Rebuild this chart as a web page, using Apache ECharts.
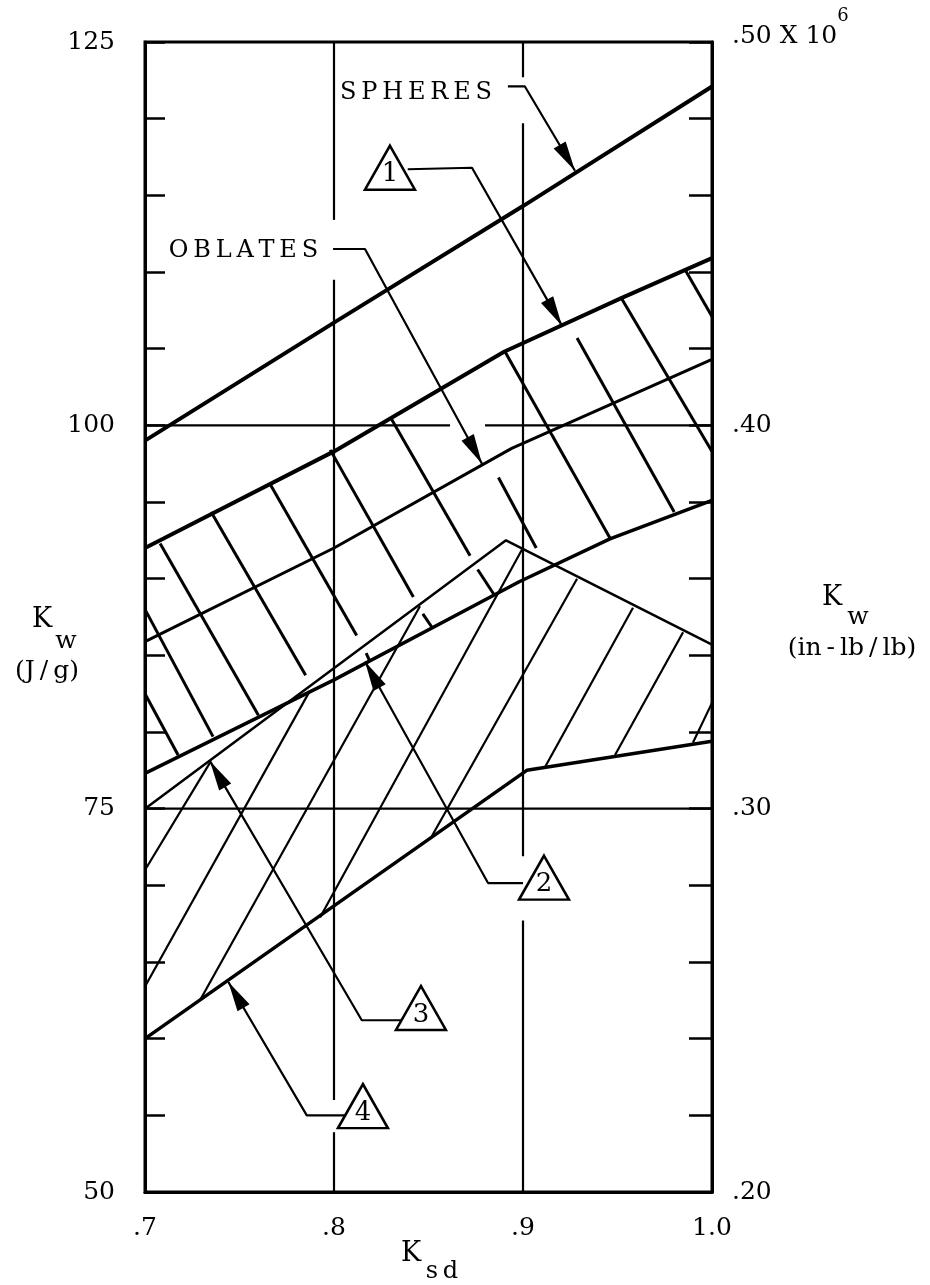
<!DOCTYPE html>
<html><head><meta charset="utf-8">
<script src="https://cdn.jsdelivr.net/npm/echarts@6/dist/echarts.min.js"></script>
<style>html,body{margin:0;padding:0;background:#fff}#c{width:930px;height:1285px}</style>
</head><body><div id="c"></div>
<script>
// ---------- data ----------
const xTickLabels = ['.7', '.8', '.9', '1.0'];
const leftTickLabels = ['50', '75', '100', '125'];
const rightTickLabels = ['.20', '.30', '.40', '{t|.50 X 10}{sup|6}'];

const spheres = [[0.7, 99.0], [0.8, 106.7], [0.9, 114.3], [1.0, 122.1]];
const curve1  = [[0.7, 92.0], [0.8, 98.3], [0.89, 104.8], [0.952, 108.3], [1.0, 110.9]];
const oblates = [[0.7, 85.9], [0.8, 92.0], [0.894, 98.5], [1.0, 104.3]];
const curve2  = [[0.7, 77.3], [0.8, 83.4], [0.898, 89.8], [0.946, 92.6], [1.0, 95.1]];
const curve3  = [[0.7, 75.0], [0.891, 92.5], [1.0, 85.7]];
const curve4  = [[0.7, 60.0], [0.902, 77.5], [1.0, 79.4]];

// grid line pieces (the drawing breaks them where leaders cross) [x1, y1, x2, y2]
const gridPieces = [
  [0.8, 125, 0.8, 113.4], [0.8, 109.5, 0.8, 56.0], [0.8, 53.9, 0.8, 50],
  [0.9, 125, 0.9, 122.7], [0.9, 119.7, 0.9, 71.9], [0.9, 67.7, 0.9, 50],
  [0.7, 100, 0.8614, 100], [0.8799, 100, 1.0, 100],
  [0.7, 75, 1.0, 75]
];

// hatch segments [x1, y1, x2, y2]
const hatchUpper = [
  [0.700, 82.5, 0.7175, 78.5],
  [0.700, 88.0, 0.736, 79.7],
  [0.708, 92.3, 0.760, 81.1],
  [0.735, 94.35, 0.785, 83.7],
  [0.766, 96.2, 0.812, 86.3],
  [0.817, 85.15, 0.819, 84.6],
  [0.798, 98.4, 0.842, 88.8],
  [0.847, 87.7, 0.852, 86.8],
  [0.830, 100.5, 0.872, 91.5],
  [0.876, 90.6, 0.885, 88.9],
  [0.887, 96.6, 0.907, 92.0],
  [0.8905, 104.8, 0.946, 92.65],
  [0.9286, 105.7, 0.980, 94.35],
  [0.952, 108.3, 1.0, 98.3],
  [0.986, 110.1, 1.0, 107.1]
];
const hatchLower = [
  [0.700, 71.0, 0.7344, 78.0],
  [0.700, 63.4, 0.7873, 82.7],
  [0.7291, 62.5, 0.8455, 88.2],
  [0.7926, 67.9, 0.8995, 91.9],
  [0.8513, 73.1, 0.9286, 90.0],
  [0.9116, 77.7, 0.9582, 88.1],
  [0.9487, 78.5, 0.9847, 86.5],
  [0.9899, 79.3, 1.0, 81.9]
];

// leader paths (last point = arrow tip)
const leaderSpheres = [[0.892, 122.1], [0.901, 122.1], [0.9275, 116.6]];
const leader1       = [[0.839, 116.7], [0.873, 116.8], [0.9206, 106.5]];
const leaderOblates = [[0.7995, 111.5], [0.8164, 111.5], [0.8783, 97.5]];
const leader2       = [[0.900, 70.15], [0.8815, 70.15], [0.8164, 84.6]];
const leader3       = [[0.8358, 61.2], [0.8147, 61.2], [0.7344, 78.1]];
const leader4       = [[0.8067, 55.0], [0.7856, 55.0], [0.7441, 63.7]];

const markerLabels = ['1', '2', '3', '4'];
const markerPos = [[0.8296, 116.8], [0.9111, 70.5], [0.846, 62.0], [0.8153, 55.6]];

const notes = ['SPHERES', 'OBLATES'];
const notePos = [[0.8434, 121.7], [0.7521, 111.4]];

// ---------- chart ----------
const FONT = '"DejaVu Serif", "Liberation Serif", serif';
const BLACK = '#000';
const spaced = s => s.split('').join('\u2009');

function lineSeries(data, width) {
  return {
    type: 'line', data: data, showSymbol: false, symbol: 'none', silent: true,
    lineStyle: { color: BLACK, width: width }, z: 3, clip: false
  };
}
function segSeries(data, width, z) {
  return {
    type: 'custom', data: data, silent: true, clip: false, z: z || 2,
    encode: { x: [0, 2], y: [1, 3] },
    renderItem: function (params, api) {
      const a = api.coord([api.value(0), api.value(1)]);
      const b = api.coord([api.value(2), api.value(3)]);
      return { type: 'line', shape: { x1: a[0], y1: a[1], x2: b[0], y2: b[1] },
               style: { stroke: BLACK, lineWidth: width, lineCap: 'butt' } };
    }
  };
}
const leaders = [leaderSpheres, leader1, leaderOblates, leader2, leader3, leader4];
const arrowData = leaders.map(p => {
  const a = p[p.length - 2], b = p[p.length - 1];
  return [a[0], a[1], b[0], b[1]];
});

const series = [
  segSeries(gridPieces, 2.2, 1),
  lineSeries(spheres, 4),
  lineSeries(curve1, 4),
  lineSeries(oblates, 3),
  lineSeries(curve2, 3.5),
  lineSeries(curve3, 2.5),
  lineSeries(curve4, 3.5),
  segSeries(hatchUpper, 3),
  segSeries(hatchLower, 2.2)
];
leaders.forEach(p => series.push(lineSeries(p, 2.2)));
series.push({
  type: 'custom', data: arrowData, silent: true, clip: false, z: 4,
  encode: { x: [0, 2], y: [1, 3] },
  renderItem: function (params, api) {
    const a = api.coord([api.value(0), api.value(1)]);
    const b = api.coord([api.value(2), api.value(3)]);
    const dx = b[0] - a[0], dy = b[1] - a[1], L = Math.hypot(dx, dy);
    const ux = dx / L, uy = dy / L, len = 30, hw = 7;
    const bx = b[0] - ux * len, by = b[1] - uy * len;
    return { type: 'polygon',
             shape: { points: [[b[0], b[1]], [bx - uy * hw, by + ux * hw], [bx + uy * hw, by - ux * hw]] },
             style: { fill: BLACK } };
  }
});
series.push({
  type: 'scatter', data: markerPos, symbol: 'triangle', symbolSize: [50, 44], silent: true, z: 5,
  itemStyle: { color: '#fff', borderColor: BLACK, borderWidth: 2.5, opacity: 1 },
  label: { show: true, position: 'inside', offset: [0, 7], formatter: p => markerLabels[p.dataIndex],
           fontFamily: FONT, fontSize: 26, color: BLACK, textBorderWidth: 0 }
});
series.push({
  type: 'scatter', data: notePos, symbolSize: 1, silent: true, z: 5,
  itemStyle: { color: '#fff' },
  label: { show: true, position: 'inside', formatter: p => spaced(notes[p.dataIndex]),
           fontFamily: FONT, fontSize: 24, color: BLACK, textBorderWidth: 0, opacity: 1 }
});

const labelStyle = { fontFamily: FONT, fontSize: 25, color: BLACK };

const option = {
  animation: false,
  backgroundColor: '#fff',
  grid: { left: 145, right: 218, top: 42, bottom: 93, show: true, borderColor: BLACK, borderWidth: 3,
          backgroundColor: 'transparent', containLabel: false, outerBoundsMode: 'none' },
  xAxis: {
    type: 'value', min: 0.7, max: 1.0, interval: 0.1,
    axisLine: { show: true, lineStyle: { color: BLACK, width: 3 } },
    axisTick: { show: false },
    splitLine: { show: false },
    axisLabel: Object.assign({ margin: 24, formatter: v => xTickLabels[Math.round((v - 0.7) / 0.1)] }, labelStyle)
  },
  yAxis: [{
    type: 'value', min: 50, max: 125, interval: 25, position: 'left',
    axisLine: { show: true, lineStyle: { color: BLACK, width: 3 } },
    axisTick: { show: true, inside: true, length: 20, lineStyle: { color: BLACK, width: 2.5 } },
    minorTick: { show: true, splitNumber: 5, length: 20, lineStyle: { color: BLACK, width: 2.5 } },
    splitLine: { show: false },
    axisLabel: Object.assign({ margin: 30, formatter: v => leftTickLabels[Math.round((v - 50) / 25)] }, labelStyle)
  }, {
    type: 'value', min: 0.2, max: 0.5, interval: 0.1, position: 'right',
    axisLine: { show: true, lineStyle: { color: BLACK, width: 3 } },
    axisTick: { show: true, inside: true, length: 23, lineStyle: { color: BLACK, width: 2.5 } },
    minorTick: { show: true, splitNumber: 5, length: 23, lineStyle: { color: BLACK, width: 2.5 } },
    splitLine: { show: false },
    axisLabel: Object.assign({
      margin: 20,
      formatter: v => rightTickLabels[Math.round((v - 0.2) / 0.1)],
      rich: {
        t: { fontFamily: FONT, fontSize: 25, color: BLACK, verticalAlign: 'bottom', padding: [0, 0, 28, 0] },
        sup: { fontFamily: FONT, fontSize: 18, color: BLACK, verticalAlign: 'bottom', padding: [0, 0, 52, 0] }
      }
    }, labelStyle)
  }],
  graphic: [
    { type: 'text', x: 42, y: 620, style: { text: 'K', font: '27px ' + FONT, fill: BLACK, align: 'center', verticalAlign: 'middle' } },
    { type: 'text', x: 66, y: 641, style: { text: 'w', font: '25px ' + FONT, fill: BLACK, align: 'center', verticalAlign: 'middle' } },
    { type: 'text', x: 47, y: 671, style: { text: '(J\u2009/\u2009g)', font: '25px ' + FONT, fill: BLACK, align: 'center', verticalAlign: 'middle' } },
    { type: 'text', x: 832, y: 598, style: { text: 'K', font: '27px ' + FONT, fill: BLACK, align: 'center', verticalAlign: 'middle' } },
    { type: 'text', x: 858, y: 617, style: { text: 'w', font: '25px ' + FONT, fill: BLACK, align: 'center', verticalAlign: 'middle' } },
    { type: 'text', x: 852, y: 648, style: { text: '(in\u2009-\u2009lb\u2009/\u2009lb)', font: '25px ' + FONT, fill: BLACK, align: 'center', verticalAlign: 'middle' } },
    { type: 'text', x: 411, y: 1254, style: { text: 'K', font: '27px ' + FONT, fill: BLACK, align: 'center', verticalAlign: 'middle' } },
    { type: 'text', x: 442, y: 1272, style: { text: 's\u2009d', font: '24px ' + FONT, fill: BLACK, align: 'center', verticalAlign: 'middle' } }
  ],
  series: series
};
const chart = echarts.init(document.getElementById('c'));
chart.setOption(option);
</script></body></html>
